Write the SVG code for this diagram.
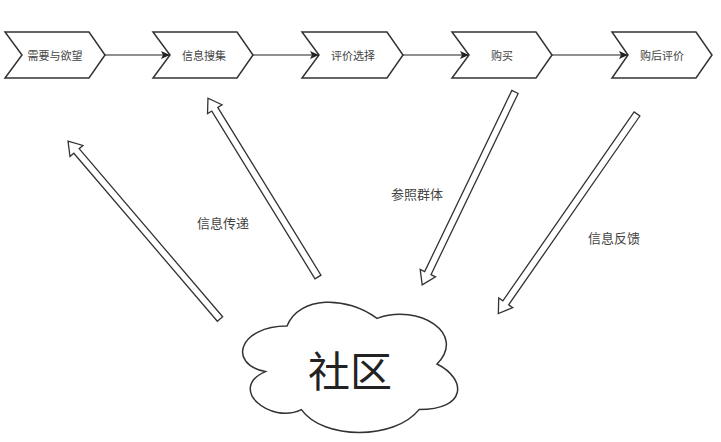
<svg xmlns="http://www.w3.org/2000/svg" width="721" height="442" viewBox="0 0 721 442">
<defs>
<style>
.step{fill:#fff;stroke:#333;stroke-width:1.5;stroke-linejoin:miter}
.lbl{font-family:"Noto Sans CJK SC","Liberation Sans",sans-serif;font-size:11px;fill:#444;text-anchor:middle;dominant-baseline:central}
.elbl{font-family:"Noto Sans CJK SC","Liberation Sans",sans-serif;font-size:13px;fill:#444;text-anchor:middle;dominant-baseline:central}
.conn{stroke:#222;stroke-width:1.2;fill:none}
.flex{fill:#fff;stroke:#333;stroke-width:1.3;stroke-linejoin:miter}
</style>
<marker id="ah" markerWidth="10" markerHeight="10" refX="9" refY="5" orient="auto" markerUnits="userSpaceOnUse">
<path d="M0,1 L9,5 L0,9 L2,5 Z" fill="#222"/>
</marker>
</defs>
<rect width="721" height="442" fill="#fff"/>
<g id="n1"><polygon class="step" points="5,32 89,32 105,55 89,78 5,78 22,55"/><text class="lbl" x="55" y="55">需要与欲望</text></g>
<g id="n2"><polygon class="step" points="153,32 237,32 253,55 237,78 153,78 170,55"/><text class="lbl" x="204" y="55">信息搜集</text></g>
<g id="n3"><polygon class="step" points="302,32 387,32 403,55 387,78 302,78 319,55"/><text class="lbl" x="353" y="55">评价选择</text></g>
<g id="n4"><polygon class="step" points="452,32 536,32 552,55 536,78 452,78 469,55"/><text class="lbl" x="502" y="55">购买</text></g>
<g id="n5"><polygon class="step" points="612,32 696,32 712,55 696,78 612,78 628,55"/><text class="lbl" x="662" y="55">购后评价</text></g>
<g id="n6"><path class="step" transform="translate(227,288) scale(240,152)" vector-effect="non-scaling-stroke" d="M0.25,0.25 C0.05,0.25 0,0.5 0.16,0.55 C0,0.66 0.18,0.9 0.31,0.8 C0.4,1 0.7,1 0.8,0.8 C1,0.8 1,0.6 0.875,0.5 C1,0.3 0.8,0.1 0.625,0.2 C0.5,0.05 0.3,0.05 0.25,0.25 Z"/><text x="350" y="368" font-family="Noto Sans CJK SC,Liberation Sans,sans-serif" font-size="42" fill="#222" text-anchor="middle" dominant-baseline="central">社区</text></g>
<g id="connectors">
<line class="conn" x1="105" y1="55" x2="170" y2="55" marker-end="url(#ah)"/>
<line class="conn" x1="253" y1="55" x2="319" y2="55" marker-end="url(#ah)"/>
<line class="conn" x1="403" y1="55" x2="469" y2="55" marker-end="url(#ah)"/>
<line class="conn" x1="552" y1="55" x2="628" y2="55" marker-end="url(#ah)"/>
<polygon class="flex" transform="translate(220,319) rotate(229.5)" points="0,-3.5 221,-3.5 221,-8.5 234,0 221,8.5 221,3.5 0,3.5"/>
<polygon class="flex" transform="translate(318,277) rotate(238.4)" points="0,-3.5 197,-3.5 197,-8.5 210,0 197,8.5 197,3.5 0,3.5"/>
<polygon class="flex" transform="translate(515,92) rotate(115.7)" points="0,-3.5 201,-3.5 201,-8.5 214,0 201,8.5 201,3.5 0,3.5"/>
<polygon class="flex" transform="translate(637,114) rotate(124.8)" points="0,-3.5 230,-3.5 230,-8.5 243,0 230,8.5 230,3.5 0,3.5"/>
<text class="elbl" x="223" y="222">信息传递</text>
<text class="elbl" x="417" y="193">参照群体</text>
<text class="elbl" x="614" y="237">信息反馈</text>
</g>
</svg>
